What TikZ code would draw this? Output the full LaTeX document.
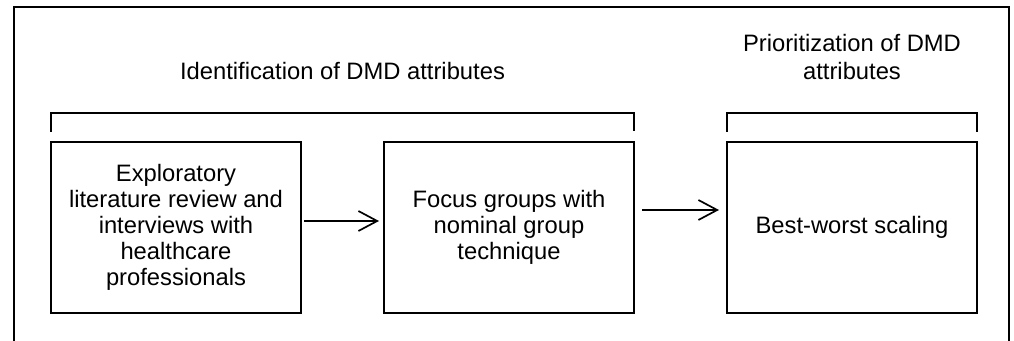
\documentclass[tikz,border=0pt]{standalone}
\usepackage{fontspec}
\setmainfont{Liberation Sans}
\usetikzlibrary{arrows.meta,positioning}
\tikzset{
  basic/.style  = {draw, line width=1.2pt, rectangle, inner sep=0pt, outer sep=0pt},
  stage/.style  = {basic, minimum width=6.25cm, minimum height=4.275cm, align=center,
                   font=\fontsize{16.9}{18.4}\selectfont},
  phase/.style  = {align=center, inner sep=0pt, anchor=south,
                   font=\fontsize{16.9}{19.9}\selectfont},
  bracket/.style = {line width=1.2pt},
  flow/.style   = {-{Straight Barb[length=0.47cm,width=0.5cm,line width=1.2pt]}, line width=1.2pt}
}
\begin{document}
\begin{tikzpicture}
\useasboundingbox (0,0) rectangle (25.35,-8.525);

% outer frame, open at the bottom
\draw[line width=1.2pt] (0.35,-8.525) |- (25.225,-0.175) -- (25.225,-8.525);

% the three stages
\node [stage] (b1) at (4.4,-5.6875) {Exploratory\\ literature review and\\ interviews with\\ healthcare\\ professionals};
\node [stage, right=2.075cm of b1] (b2) {Focus groups with\\ nominal group\\ technique};
\node [stage, right=2.325cm of b2] (b3) {Best-worst scaling};

% brackets over the stages
\draw [bracket] ([yshift=0.25cm]b1.north west) -- ++(0,0.475) -| ([yshift=0.275cm]b2.north east);
\draw [bracket] ([yshift=0.25cm]b3.north west) -- ++(0,0.475) -| ([yshift=0.25cm]b3.north east);

% phase titles
\node [phase] (t1) at (8.5625,-2.0) {Identification of DMD attributes};
\node [phase] (t2) at (b3 |- t1.south) {Prioritization of DMD\\ attributes};

% arrows between the stages
\draw [flow, shorten <=0.075cm, shorten >=0.125cm] ([yshift=0.1625cm]b1.east) -- ([yshift=0.1625cm]b2.west);
\draw [flow, shorten <=0.2cm, shorten >=0.2cm] ([yshift=0.4375cm]b2.east) -- ([yshift=0.4375cm]b3.west);

\end{tikzpicture}
\end{document}
